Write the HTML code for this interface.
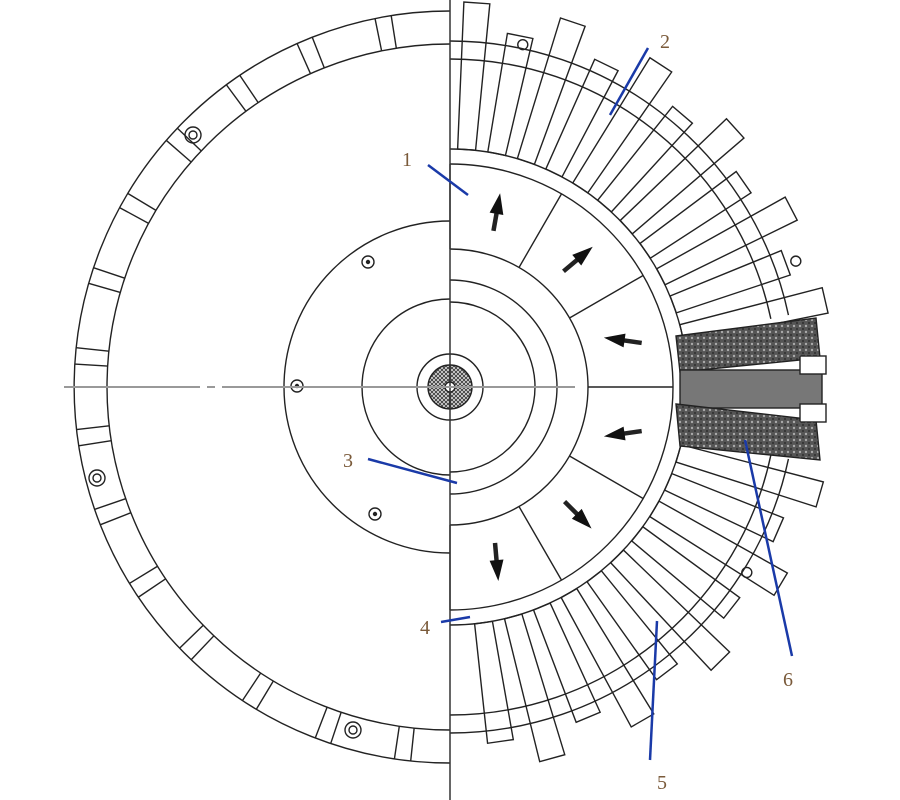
<!DOCTYPE html>
<html><head><meta charset="utf-8"><style>
html,body{margin:0;padding:0;background:#fff;}
svg{display:block;}
text{font-family:"Liberation Serif",serif;font-size:20px;fill:#7a5a3a;}
</style></head><body>
<svg id="s" width="900" height="800" viewBox="0 0 900 800" xmlns="http://www.w3.org/2000/svg">
<defs>
<pattern id="hat" width="4" height="4" patternUnits="userSpaceOnUse"><rect width="4" height="4" fill="#ddd"/><path d="M0 4L4 0M0 0L4 4" stroke="#333" stroke-width="0.8"/></pattern>
<pattern id="dots" width="6" height="6" patternUnits="userSpaceOnUse"><rect width="6" height="6" fill="#555"/><circle cx="2" cy="2" r="1.2" fill="#aaa"/><circle cx="5" cy="5" r="0.9" fill="#222"/></pattern>
</defs>
<g id="g" fill="none" stroke="#222" stroke-width="1.4"></g>
<line x1="450" y1="0" x2="450" y2="800" stroke="#333" stroke-width="1.5"/>
<line x1="64" y1="387" x2="200" y2="387" stroke="#999" stroke-width="2"/>
<line x1="207" y1="387" x2="215" y2="387" stroke="#999" stroke-width="2"/>
<line x1="222" y1="387" x2="450" y2="387" stroke="#999" stroke-width="2"/>
<line x1="450" y1="387" x2="575" y2="387" stroke="#999" stroke-width="2"/>
<g stroke="#1a3aa8" stroke-width="2.5">
<line x1="428" y1="165" x2="468" y2="195"/>
<line x1="648" y1="48" x2="610" y2="115"/>
<line x1="368" y1="459" x2="457" y2="483"/>
<line x1="441" y1="622" x2="470" y2="617"/>
<line x1="657" y1="621" x2="650" y2="760"/>
<line x1="745" y1="440" x2="792" y2="656"/>
</g>
<text x="402" y="166">1</text>
<text x="660" y="48">2</text>
<text x="343" y="467">3</text>
<text x="420" y="634">4</text>
<text x="657" y="789">5</text>
<text x="783" y="686">6</text>
</svg>
<script>
var g=document.getElementById('g'),NS='http://www.w3.org/2000/svg';
var cx=450,cy=387;
function el(t,a){var e=document.createElementNS(NS,t);for(var k in a)e.setAttribute(k,a[k]);g.appendChild(e);return e;}
function P(r,d){var a=d*Math.PI/180;return [cx+r*Math.cos(a),cy+r*Math.sin(a)];}
function arc(r,a1,a2,extra){var p=P(r,a1),q=P(r,a2);var large=Math.abs(a2-a1)>180?1:0;var sw=a2>a1?1:0;
 return el('path',Object.assign({d:'M'+p[0]+' '+p[1]+'A'+r+' '+r+' 0 '+large+' '+sw+' '+q[0]+' '+q[1]},extra||{}));}
function ln(a,b,extra){return el('line',Object.assign({x1:a[0],y1:a[1],x2:b[0],y2:b[1]},extra||{}));}
el('path',{d:'M450 11A376 376 0 0 0 450 763'});
el('path',{d:'M450 44A343 343 0 0 0 450 730'});
for(var a=96;a<270;a+=12.5){ln(P(343,a),P(376,a));ln(P(343,a+2.5),P(376,a+2.5));}
[[193,135],[97,478],[353,730]].forEach(function(b){el('circle',{cx:b[0],cy:b[1],r:8});el('circle',{cx:b[0],cy:b[1],r:4});});
el('path',{d:'M450 221A166 166 0 0 0 450 553'});
el('path',{d:'M450 299A88 88 0 0 0 450 475'});
[[297,386],[368,262],[375,514]].forEach(function(b){el('circle',{cx:b[0],cy:b[1],r:6});el('circle',{cx:b[0],cy:b[1],r:1.5,fill:'#222'});});
el('circle',{cx:450,cy:387,r:33});
el('path',{d:'M450 365A22 22 0 0 0 450 409Z',fill:'url(#hat)'});
el('path',{d:'M450 365A22 22 0 0 1 450 409Z',fill:'url(#hat)'});
el('circle',{cx:450,cy:387,r:5,fill:'#fff'});
arc(85,-90,90);arc(107,-90,90);arc(138,-90,90);
arc(223,-90,90);arc(238,-90,90);
ln([450,164],[450,249]);ln([450,525],[450,610]);
[-60,-30,30,60].forEach(function(a){ln(P(138,a),P(223,a));});
ln(P(138,0),P(223,0));
function arrow(r,ang,dir){var c=P(r,ang);var dx=Math.cos(dir*Math.PI/180),dy=Math.sin(dir*Math.PI/180);
 var L=18,b=[c[0]-dx*L,c[1]-dy*L],t=[c[0]+dx*L,c[1]+dy*L];
 el('line',{x1:b[0],y1:b[1],x2:c[0]+dx*6,y2:c[1]+dy*6,'stroke-width':4.5});
 var nx=-dy,ny=dx;el('polygon',{points:t[0]+','+t[1]+' '+(c[0]+nx*6)+','+(c[1]+ny*6)+' '+(c[0]-nx*6)+','+(c[1]-ny*6),fill:'#111',stroke:'#111'});}
arrow(180,-75,-80);arrow(180,-45,-40);arrow(180,-15,-172);arrow(180,15,172);arrow(180,45,45);arrow(180,75,85);
var k=0;
for(var a=-86;a<=86;a+=7.3){k++;
 if(Math.abs(a)<12)continue;
 var len=(k%2)?385:358,wb=9,wt=13;
 var rad=a*Math.PI/180,ux=Math.cos(rad),uy=Math.sin(rad),nx=-uy,ny=ux;
 var b=P(238,a),t=P(len,a);
 el('polygon',{points:[[b[0]+nx*wb,b[1]+ny*wb],[t[0]+nx*wt,t[1]+ny*wt],[t[0]-nx*wt,t[1]-ny*wt],[b[0]-nx*wb,b[1]-ny*wb]].map(function(p){return p.join(',')}).join(' ')});
}
arc(328,-90,-12);arc(346,-90,-12);arc(328,12,90);arc(346,12,90);
[[-78,350],[-20,368],[32,350]].forEach(function(b){var p=P(b[1],b[0]);el('circle',{cx:p[0],cy:p[1],r:5});});
el('polygon',{points:'676,336 816,318 820,358 680,372',fill:'url(#dots)'});
el('rect',{x:680,y:370,width:142,height:38,fill:'#777'});
el('polygon',{points:'676,404 816,420 820,460 680,446',fill:'url(#dots)'});
el('rect',{x:800,y:356,width:26,height:18,fill:'#fff'});
el('rect',{x:800,y:404,width:26,height:18,fill:'#fff'});
</script>
</body></html>
